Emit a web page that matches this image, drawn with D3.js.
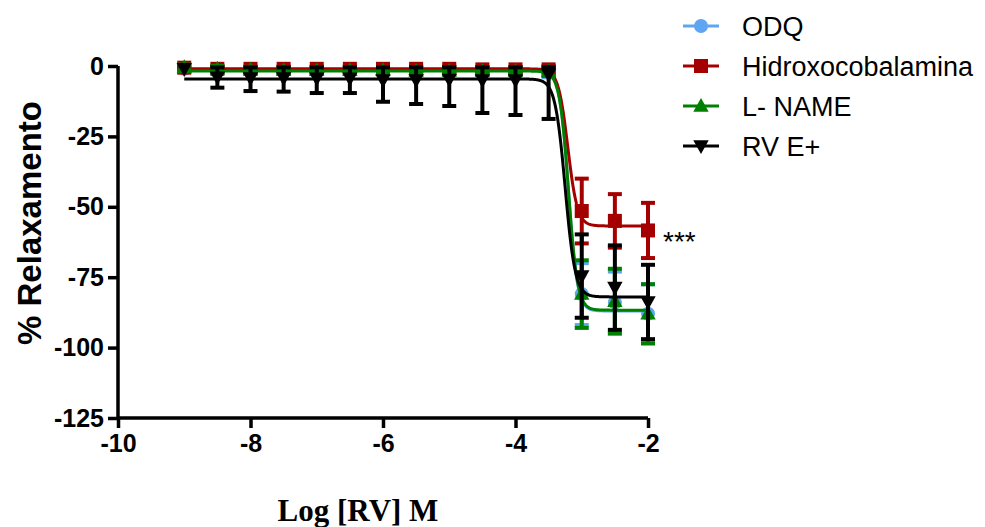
<!DOCTYPE html>
<html><head><meta charset="utf-8">
<script src="https://cdn.jsdelivr.net/npm/d3@7"></script>
<style>body{margin:0;background:#fff}svg{display:block}</style>
</head><body>
<svg id="chart" width="985" height="527"></svg>
<script>
// ---- data ----
const logConc = [-9,-8.5,-8,-7.5,-7,-6.5,-6,-5.5,-5,-4.5,-4,-3.5,-3,-2.5,-2];
const seriesNames = ["ODQ","Hidroxocobalamina","L- NAME","RV E+"];

const odqMean   = [-1,-1.5,-1.5,-1.5,-1.5,-1.5,-1.5,-1.5,-1.5,-1.5,-1.5,-2,-81,-84,-88];
const odqErrUp  = [1,1,1,1,1,1,1,1,1,1,1,2,11,11,10.5];
const odqErrDn  = [1,1,1,1,1,1,1,1,1,1,1,2,11,11,10.5];

const hidMean   = [-0.6,-1,-1,-1,-1,-1,-1,-1,-1,-1.2,-1.2,-1.2,-51.5,-55,-58.4];
const hidErrUp  = [0.5,0.8,0.8,0.8,0.8,0.8,0.8,0.8,0.8,0.8,0.8,1,11.5,9.5,9.8];
const hidErrDn  = [0.5,0.8,0.8,0.8,0.8,0.8,0.8,0.8,0.8,0.8,0.8,1,11.5,9.5,9.8];

const lnameMean  = [-0.5,-1,-1.3,-1.5,-1.5,-1.5,-1.5,-1.8,-1.8,-1.8,-1.8,-2,-81,-83.5,-88];
const lnameErrUp = [1,1,1,1,1,1,1,1,1,1,1,1.5,12,11.5,10.5];
const lnameErrDn = [1,1,1,1,1,1,1,1,1,1,1,1.5,12,11.5,10.5];

const rvMean   = [-1,-4,-4.3,-4.3,-4.4,-4.4,-5,-5,-4.8,-5,-5,-3,-74.6,-78.7,-83.8];
const rvErrUp  = [0,3.5,3.8,3.8,3.9,3.9,4.5,4.5,4.3,4.5,4.5,2.6,14.8,15,13.2];
const rvErrDn  = [0,3.7,4.6,4.8,5.2,5.2,7.7,8.5,9.4,11.7,12.4,15.8,14.8,15,13.2];

// sigmoid fit parameters
const fitTop    = [-1.5,-1,-1.8,-4.6];
const fitBottom = [-87,-56.8,-86.7,-82];
const fitLogEC50= [-3.2,-3.21,-3.2,-3.25];
const fitHill   = [6.5,6,6.4,5.7];

const xTicks = [-10,-8,-6,-4,-2];
const yTicks = [0,-25,-50,-75,-100,-125];

const colors = ["#5ea5f2","#a50000","#008000","#000000"];
const shapes = ["circle","square","triangleUp","triangleDown"];

const seriesMeans = [odqMean,hidMean,lnameMean,rvMean];
const seriesUp = [odqErrUp,hidErrUp,lnameErrUp,rvErrUp];
const seriesDn = [odqErrDn,hidErrDn,lnameErrDn,rvErrDn];

// ---- chart ----
const svg = d3.select("#chart");
const x = d3.scaleLinear().domain([-10,-2]).range([118,648]);
const y = d3.scaleLinear().domain([-125,0]).range([418,66]);

function marker(g, shape, cx, cy, color, size){
  if(shape==="circle"){
    g.append("circle").attr("cx",cx).attr("cy",cy).attr("r",size/2).attr("fill",color);
  } else if(shape==="square"){
    g.append("rect").attr("x",cx-size/2).attr("y",cy-size/2).attr("width",size).attr("height",size).attr("fill",color);
  } else {
    const s = size*0.55;
    const up = shape==="triangleUp";
    const pts = up ? [[cx,cy-s*1.05],[cx-s,cy+s*0.75],[cx+s,cy+s*0.75]]
                   : [[cx,cy+s*1.05],[cx-s,cy-s*0.75],[cx+s,cy-s*0.75]];
    g.append("polygon").attr("points",pts.map(p=>p.join(",")).join(" ")).attr("fill",color);
  }
}

// series
seriesNames.forEach((name,i)=>{
  const g = svg.append("g");
  const col = colors[i];
  logConc.forEach((lc,j)=>{
    const m = seriesMeans[i][j];
    const hi = m + seriesUp[i][j], lo = m - seriesDn[i][j];
    const cx = x(lc);
    if(seriesUp[i][j]>0){
      g.append("line").attr("x1",cx).attr("x2",cx).attr("y1",y(m)).attr("y2",y(hi)).attr("stroke",col).attr("stroke-width",4);
      g.append("line").attr("x1",cx-7).attr("x2",cx+7).attr("y1",y(hi)).attr("y2",y(hi)).attr("stroke",col).attr("stroke-width",4);
    }
    if(seriesDn[i][j]>0){
      g.append("line").attr("x1",cx).attr("x2",cx).attr("y1",y(m)).attr("y2",y(lo)).attr("stroke",col).attr("stroke-width",4);
      g.append("line").attr("x1",cx-7).attr("x2",cx+7).attr("y1",y(lo)).attr("y2",y(lo)).attr("stroke",col).attr("stroke-width",4);
    }
  });
  const xs = d3.range(-9,-2.0001,0.01).concat([-2]);
  const f = v => fitTop[i] + (fitBottom[i]-fitTop[i])/(1+Math.pow(10,(fitLogEC50[i]-v)*fitHill[i]));
  g.append("path").datum(xs)
    .attr("d",d3.line().x(v=>x(v)).y(v=>y(f(v))))
    .attr("fill","none").attr("stroke",col).attr("stroke-width",3);
  logConc.forEach((lc,j)=>marker(g,shapes[i],x(lc),y(seriesMeans[i][j]),col,14));
});

// axes
const yAxis = svg.append("g").attr("transform","translate(118,0)")
  .call(d3.axisLeft(y).tickValues(yTicks).tickSize(10).tickPadding(4).tickFormat(d3.format("d")));
const xAxis = svg.append("g").attr("transform","translate(0,418)")
  .call(d3.axisBottom(x).tickValues(xTicks).tickSize(10).tickPadding(6).tickFormat(d3.format("d")));
[yAxis,xAxis].forEach(a=>{
  a.select(".domain").attr("stroke","#000").attr("stroke-width",3.5);
  a.selectAll(".tick line").attr("stroke","#000").attr("stroke-width",3.5);
  a.selectAll(".tick text").attr("fill","#000")
    .style("font-family","'Liberation Sans',Arial,sans-serif").style("font-weight","bold").style("font-size","25px");
});
yAxis.selectAll(".tick text").text(d=>String(d));
xAxis.selectAll(".tick text").text(d=>String(d));
yAxis.select(".domain").attr("d","M0,66V418");
xAxis.select(".domain").attr("d","M118,0H648");

// axis titles
svg.append("text").attr("transform","translate(41,223) rotate(-90)")
  .attr("text-anchor","middle")
  .style("font-family","'Liberation Sans',Arial,sans-serif").style("font-weight","bold").style("font-size","33px")
  .text("% Relaxamento");
svg.append("text").attr("x",358).attr("y",521).attr("text-anchor","middle")
  .style("font-family","'Liberation Serif','Times New Roman',serif").style("font-weight","bold").style("font-size","31px")
  .text("Log [RV] M");

// significance
svg.append("text").attr("x",663).attr("y",251)
  .style("font-family","'Liberation Sans',Arial,sans-serif").style("font-size","28px")
  .text("***");

// legend
const legY = [26,66,106,146];
seriesNames.forEach((name,i)=>{
  const g = svg.append("g");
  g.append("line").attr("x1",683).attr("x2",719).attr("y1",legY[i]).attr("y2",legY[i])
    .attr("stroke",colors[i]).attr("stroke-width",3);
  marker(g,shapes[i],701,legY[i],colors[i],14);
  g.append("text").attr("x",742).attr("y",legY[i]+10)
    .style("font-family","'Liberation Sans',Arial,sans-serif").style("font-size","27px")
    .text(name);
});
</script>
</body></html>
